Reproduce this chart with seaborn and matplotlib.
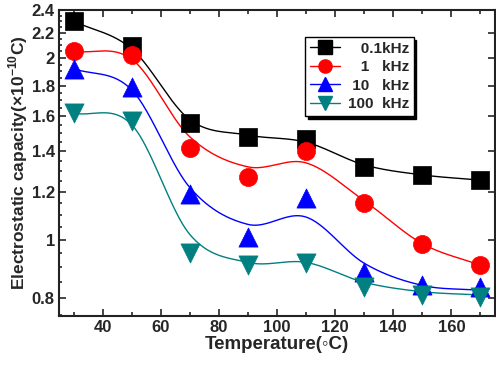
import numpy as np
import pandas as pd
import matplotlib
matplotlib.use("Agg")
import matplotlib.pyplot as plt
import matplotlib.ticker as mticker
from matplotlib.lines import Line2D
import seaborn as sns

# ── data ──────────────────────────────────────────────────────────────────
temps = [30, 50, 70, 90, 110, 130, 150, 170]
labels = ["   0.1kHz", "   1   kHz", " 10   kHz", "100  kHz"]
colors = ["#000000", "#ff0000", "#0000ff", "#008080"]
markers = ["s", "o", "^", "v"]

# measured points
cap_01k = [2.30, 2.09, 1.56, 1.48, 1.47, 1.32, 1.28, 1.255]
cap_1k = [2.05, 2.02, 1.42, 1.27, 1.40, 1.15, 0.984, 0.907]
cap_10k = [1.92, 1.79, 1.19, 1.01, 1.17, 0.884, 0.84, 0.834]
cap_100k = [1.62, 1.57, 0.95, 0.907, 0.914, 0.834, 0.81, 0.803]

# fitted curve values at the same temperatures
fit_01k = [2.30, 2.07, 1.58, 1.49, 1.45, 1.33, 1.28, 1.255]
fit_1k = [2.05, 1.99, 1.48, 1.32, 1.34, 1.16, 0.985, 0.907]
fit_10k = [1.92, 1.77, 1.22, 1.06, 1.09, 0.914, 0.84, 0.825]
fit_100k = [1.62, 1.55, 1.02, 0.917, 0.917, 0.85, 0.82, 0.81]

points = [cap_01k, cap_1k, cap_10k, cap_100k]
fits = [fit_01k, fit_1k, fit_10k, fit_100k]

sns.set_theme(style="ticks")
plt.rcParams["font.family"] = ["Liberation Sans", "DejaVu Sans"]
plt.rcParams["font.weight"] = "bold"


def smooth(x, y, n=300):
    # cubic Hermite through the fitted values, in log space
    x = np.asarray(x, float)
    ly = np.log(np.asarray(y, float))
    m = np.gradient(ly, x)
    xs = np.linspace(x[0], x[-1], n)
    idx = np.clip(np.searchsorted(x, xs) - 1, 0, len(x) - 2)
    h = x[idx + 1] - x[idx]
    t = (xs - x[idx]) / h
    h00 = 2 * t**3 - 3 * t**2 + 1
    h10 = t**3 - 2 * t**2 + t
    h01 = -2 * t**3 + 3 * t**2
    h11 = t**3 - t**2
    ys = h00 * ly[idx] + h10 * h * m[idx] + h01 * ly[idx + 1] + h11 * h * m[idx + 1]
    return xs, np.exp(ys)


fig = plt.figure(figsize=(4.96, 3.72), dpi=100)
ax = fig.add_axes([0.119, 0.151, 0.879, 0.822])

handles = []
for lab, col, mk, pts, fit in zip(labels, colors, markers, points, fits):
    xs, ys = smooth(temps, fit)
    sns.lineplot(x=xs, y=ys, color=col, linewidth=1.0, ax=ax, legend=False)
    size = 190 if mk in ("^", "v") else 170
    sns.scatterplot(x=temps, y=pts, color=col, marker=mk, s=size,
                    edgecolor=col, linewidth=0.5, ax=ax, legend=False, zorder=3)
    handles.append(Line2D([], [], color=col, marker=mk, markersize=9.5,
                          linewidth=1.0, label=lab))

ax.set_yscale("log")
ax.set_xlim(25, 175)
ax.set_ylim(0.748, 2.4)
ax.yaxis.set_major_locator(mticker.FixedLocator([0.8, 1, 1.2, 1.4, 1.6, 1.8, 2, 2.2, 2.4]))
ax.yaxis.set_major_formatter(mticker.FormatStrFormatter("%g"))
ax.yaxis.set_minor_locator(mticker.FixedLocator(np.arange(0.75, 2.41, 0.05)))
ax.yaxis.set_minor_formatter(mticker.NullFormatter())
ax.xaxis.set_major_locator(mticker.MultipleLocator(20))
ax.xaxis.set_minor_locator(mticker.MultipleLocator(10))

ax.tick_params(which="both", direction="in", top=True, right=True,
               labelsize=12, width=1.2, pad=3)
ax.tick_params(which="major", length=5)
ax.tick_params(which="minor", length=3)
ax.tick_params(axis="y", which="minor", right=False, length=2.5)
for lbl in ax.get_xticklabels() + ax.get_yticklabels():
    lbl.set_fontweight("bold")
for sp in ax.spines.values():
    sp.set_linewidth(1.5)
    sp.set_color("#222222")

ax.set_xlabel("Temperature(◦C)", fontsize=13.5, fontweight="bold", labelpad=1)
ax.set_ylabel("Electrostatic capacity(×10$^{\\mathregular{-10}}$C)",
              fontsize=12.5, fontweight="bold", labelpad=1)

leg = ax.legend(handles=handles, loc="upper left", bbox_to_anchor=(0.564, 0.912),
                borderaxespad=0, frameon=True, fancybox=False, edgecolor="black",
                shadow={"color": "black", "alpha": 1.0}, handlelength=2.0,
                borderpad=0.3, labelspacing=0.3, handletextpad=0.5,
                prop={"weight": "bold", "size": 11})
leg.get_frame().set_linewidth(1.0)

fig.savefig("out.png", dpi=100)
